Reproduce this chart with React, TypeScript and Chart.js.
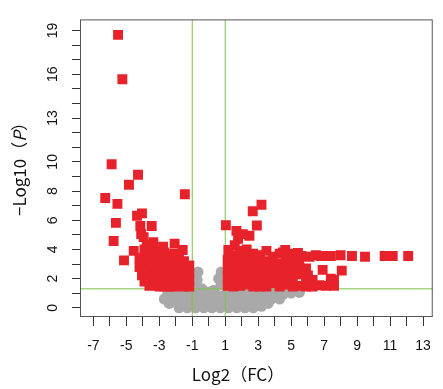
import { useEffect, useRef } from 'react';
import { Chart, registerables } from 'chart.js';

Chart.register(...registerables);

// Down-regulated (significant, log2FC < -1)
const downX = [
  -5.50, -5.24, -5.89, -4.29, -4.84, -6.28, -5.54, -1.45, -5.63, -5.77, -5.14, -4.55,
  -4.35, -4.05, -4.15, -4.10, -3.46, -3.95, -3.36, -3.76, -2.77, -2.07, -1.58, -4.05,
  -4.20, -4.20,
  -3.90, -3.90, -3.90, -3.90,
  -3.60, -3.60, -3.60, -3.60, -3.60,
  -3.30, -3.30, -3.30, -3.30, -3.30,
  -3.00, -3.00, -3.00, -3.00, -3.00,
  -2.70, -2.70, -2.70, -2.70, -2.70,
  -2.40, -2.40, -2.40, -2.40, -2.40,
  -2.10, -2.10, -2.10, -2.10, -2.10,
  -1.80, -1.80, -1.80, -1.80,
  -1.50, -1.50, -1.50, -1.50,
  -1.18, -1.18, -1.18, -1.18,
];
const downY = [
  18.70, 15.66, 9.84, 9.12, 8.43, 7.52, 7.12, 7.78, 5.82, 4.58, 3.25, 3.90,
  6.31, 6.47, 5.60, 5.05, 5.60, 4.84, 4.50, 4.29, 4.18, 4.40, 3.96, 2.22,
  3.40, 2.80,
  4.00, 3.50, 2.90, 1.80,
  3.70, 3.10, 2.60, 2.00, 1.50,
  3.90, 3.30, 2.70, 2.10, 1.55,
  3.60, 3.00, 2.50, 1.90, 1.45,
  3.80, 3.20, 2.60, 2.00, 1.45,
  3.50, 2.90, 2.30, 1.80, 1.45,
  3.70, 3.10, 2.50, 1.90, 1.45,
  3.40, 2.80, 2.20, 1.50,
  3.20, 2.60, 2.00, 1.45,
  2.90, 2.40, 1.90, 1.45,
];

// Up-regulated (significant, log2FC > 1)
const upX = [
  1.04, 3.20, 2.67, 2.92, 1.68, 2.07, 2.47, 1.78, 1.58, 1.19, 4.64, 5.41,
  4.50, 5.10, 5.63, 6.12, 6.50, 6.82, 7.41, 8.00, 8.69, 9.48, 10.67, 11.16, 12.10,
  6.91, 8.07, 7.41, 6.02,
  1.15, 1.15, 1.15, 1.15,
  1.50, 1.50, 1.50, 1.50, 1.50,
  1.90, 1.90, 1.90, 1.90, 1.90,
  2.30, 2.30, 2.30, 2.30, 2.30,
  2.70, 2.70, 2.70, 2.70, 2.70,
  3.10, 3.10, 3.10, 3.10, 3.10,
  3.50, 3.50, 3.50, 3.50, 3.50,
  3.90, 3.90, 3.90, 3.90,
  4.30, 4.30, 4.30, 4.30, 4.30,
  4.70, 4.70, 4.70, 4.70,
  5.10, 5.10, 5.10, 5.10,
  5.50, 5.50, 5.50,
  5.90, 5.90, 5.90,
  6.30, 6.30,
  6.70, 7.10, 7.60, 7.60,
];
const upY = [
  5.66, 7.06, 6.62, 5.64, 5.27, 5.05, 4.94, 4.73, 4.29, 3.96, 3.96, 3.75,
  3.80, 3.70, 3.55, 3.50, 3.60, 3.55, 3.55, 3.60, 3.55, 3.50, 3.55, 3.55, 3.55,
  2.60, 2.55, 2.00, 2.22,
  3.30, 2.70, 2.10, 1.50,
  3.60, 3.00, 2.40, 1.80, 1.45,
  3.90, 3.30, 2.70, 2.10, 1.50,
  4.00, 3.40, 2.80, 2.20, 1.60,
  3.70, 3.10, 2.50, 1.90, 1.45,
  3.60, 3.00, 2.40, 1.80, 1.45,
  3.90, 3.20, 2.60, 2.00, 1.45,
  3.50, 2.90, 2.30, 1.70,
  3.70, 3.00, 2.40, 1.80, 1.45,
  3.40, 2.80, 2.20, 1.60,
  3.10, 2.50, 1.90, 1.45,
  2.90, 2.30, 1.50,
  2.70, 1.80, 1.45,
  1.90, 1.45,
  1.55, 1.50, 1.50, 1.90,
];

// Not significant
const nsX = [
  -1.8, -1.3, -0.8, -0.3, 0.2, 0.7, 1.2, 1.7, 2.2, 2.7, 3.2,
  -2.4, -1.9, -1.4, -0.9, -0.4, 0.1, 0.6, 1.1, 1.6, 2.1, 2.6, 3.1, 3.6,
  -2.7, -2.2, -1.7, -1.2, -0.7, -0.2, 0.3, 0.8, 1.3, 1.8, 2.3, 2.8, 3.3, 3.8, 4.3,
  -2.5, -2.0, -1.5, -1.0, -0.5, 0.0, 0.5, 1.0, 1.5, 2.0, 2.5, 3.0, 3.5, 4.0, 4.5, 5.0, 5.5,
  -2.2, -1.6, -1.1, 1.2, 1.8, 2.4, 3.0, 3.6, 4.2, 4.8,
  -0.85, -0.70, -0.65, -0.90, -0.40, 0.30, 0.75, 0.60, 0.75, 0.90, -0.20, 0.10,
];
const nsY = [
  0.0, 0.0, 0.0, 0.0, 0.0, 0.0, 0.0, 0.0, 0.0, 0.0, 0.1,
  0.3, 0.3, 0.3, 0.3, 0.3, 0.3, 0.3, 0.3, 0.3, 0.3, 0.3, 0.3, 0.3,
  0.6, 0.6, 0.6, 0.6, 0.6, 0.6, 0.6, 0.6, 0.6, 0.6, 0.6, 0.6, 0.6, 0.6, 0.6,
  0.9, 0.9, 0.9, 0.9, 0.9, 0.9, 0.9, 0.9, 0.9, 0.9, 0.9, 0.9, 0.9, 0.9, 0.9, 1.0, 1.05,
  1.2, 1.2, 1.2, 1.2, 1.2, 1.2, 1.2, 1.2, 1.2, 1.2,
  1.5, 1.9, 2.45, 2.2, 1.3, 1.2, 1.6, 2.0, 2.45, 2.1, 1.05, 1.1,
];

const xTickValues = [-7, -6, -5, -4, -3, -2, -1, 0, 1, 2, 3, 4, 5, 6, 7, 8, 9, 10, 11, 12, 13];
const xTickLabels = [-7, -5, -3, -1, 1, 3, 5, 7, 9, 11, 13];
const yTickValues = [0, 1, 2, 3, 4, 5, 6, 7, 8, 9, 10, 11, 12, 13, 14, 15, 16, 17, 18, 19];
const yTickLabels = [0, 2, 4, 6, 8, 10, 13, 16, 19];

const fcCut = 1;
const pCut = 1.3;
const xMin = -7.81;
const xMax = 13.59;
const yMin = -0.63;
const yMax = 19.76;

const RED = '#E8222A';
const GRAY = '#A9A9A9';
const GREEN = '#7DC245';

const pts = (xs: number[], ys: number[]) => xs.map((x, i) => ({ x, y: ys[i] }));

const framePlugin = {
  id: 'frame',
  afterDraw(chart: any) {
    const { ctx, chartArea: a } = chart;
    ctx.save();
    ctx.strokeStyle = '#555';
    ctx.lineWidth = 1;
    ctx.strokeRect(a.left + 0.5, a.top + 0.5, a.right - a.left - 1, a.bottom - a.top - 1);

    ctx.fillStyle = '#111';
    ctx.textBaseline = 'middle';
    ctx.textAlign = 'center';
    ctx.font = '17px "Noto Sans CJK JP"';
    ctx.fillText('Log2（FC）', 238, 375);

    ctx.translate(20, 165);
    ctx.rotate(-Math.PI / 2);
    const normal = '17px "Noto Sans CJK JP"';
    const italic = 'italic 17px "Noto Sans CJK JP"';
    const parts: [string, string][] = [['−Log10（', normal], ['P', italic], ['）', normal]];
    let total = 0;
    for (const [t, f] of parts) { ctx.font = f; total += ctx.measureText(t).width; }
    let cx = -total / 2;
    ctx.textAlign = 'left';
    for (const [t, f] of parts) {
      ctx.font = f;
      ctx.fillText(t, cx, 0);
      cx += ctx.measureText(t).width;
    }
    ctx.restore();
  },
};

export default function App() {
  const ref = useRef<HTMLCanvasElement>(null);

  useEffect(() => {
    if (!ref.current) return;
    const chart = new Chart(ref.current, {
      type: 'scatter',
      data: {
        datasets: [
          { data: pts(upX, upY), pointStyle: 'rect', pointRadius: 7, backgroundColor: RED, borderWidth: 0, order: 0 } as any,
          { data: pts(downX, downY), pointStyle: 'rect', pointRadius: 7, backgroundColor: RED, borderWidth: 0, order: 0 } as any,
          { data: [{ x: -fcCut, y: yMin }, { x: -fcCut, y: yMax }], showLine: true, pointRadius: 0, borderColor: GREEN, borderWidth: 1, order: 1 } as any,
          { data: [{ x: fcCut, y: yMin }, { x: fcCut, y: yMax }], showLine: true, pointRadius: 0, borderColor: GREEN, borderWidth: 1, order: 1 } as any,
          { data: [{ x: xMin, y: pCut }, { x: xMax, y: pCut }], showLine: true, pointRadius: 0, borderColor: GREEN, borderWidth: 1, order: 1 } as any,
          { data: pts(nsX, nsY), pointStyle: 'circle', pointRadius: 5.5, backgroundColor: GRAY, borderWidth: 0, order: 2 } as any,
        ],
      },
      options: {
        responsive: false,
        animation: false,
        events: [],
        layout: { padding: { top: 5, right: 2, left: 0, bottom: 0 } },
        plugins: { legend: { display: false }, tooltip: { enabled: false } },
        scales: {
          x: {
            type: 'linear',
            min: xMin,
            max: xMax,
            border: { display: false },
            grid: { drawOnChartArea: false, drawTicks: true, tickLength: 9, tickColor: '#333', lineWidth: 1 },
            afterBuildTicks: (s: any) => { s.ticks = xTickValues.map((v) => ({ value: v })); },
            afterFit: (s: any) => { s.height = 72; },
            ticks: {
              autoSkip: false,
              maxRotation: 0,
              minRotation: 0,
              padding: 12,
              color: '#111',
              font: { family: '"Liberation Sans", Arial, sans-serif', size: 14 },
              callback: (v: any) => (xTickLabels.includes(Number(v)) ? String(v) : ''),
            },
          },
          y: {
            type: 'linear',
            min: yMin,
            max: yMax,
            border: { display: false },
            grid: { drawOnChartArea: false, drawTicks: true, tickLength: 8, tickColor: '#333', lineWidth: 1 },
            afterBuildTicks: (s: any) => { s.ticks = yTickValues.map((v) => ({ value: v })); },
            afterFit: (s: any) => { s.width = 80; },
            ticks: {
              autoSkip: false,
              minRotation: 90,
              maxRotation: 90,
              crossAlign: 'center',
              padding: 11,
              color: '#111',
              font: { family: '"Liberation Sans", Arial, sans-serif', size: 14 },
              callback: (v: any) => (yTickLabels.includes(Number(v)) ? String(v) : ''),
            },
          },
        },
      },
      plugins: [framePlugin],
    });
    return () => chart.destroy();
  }, []);

  return (
    <div style={{ position: 'fixed', left: 0, top: 0, width: 443, height: 389, background: '#fff' }}>
      <canvas ref={ref} width={443} height={389} style={{ display: 'block', width: 443, height: 389 }} />
    </div>
  );
}
